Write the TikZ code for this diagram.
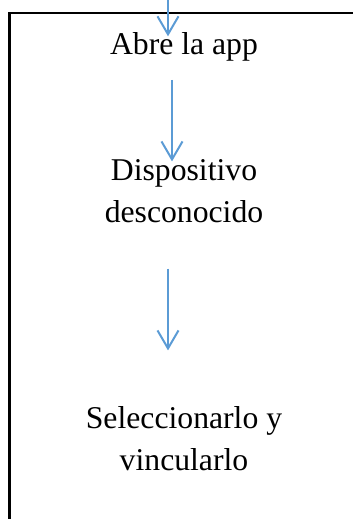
\documentclass[tikz,border=0pt]{standalone}
\usepackage{fontspec}
\setmainfont{Liberation Serif}
\usetikzlibrary{arrows.meta}
\definecolor{azul}{RGB}{91,155,213}
\begin{document}
\begin{tikzpicture}[x=1pt,y=-1pt,
	texto/.style={font=\fontsize{31.7}{42}\selectfont,align=center,inner sep=0pt,anchor=base},
	flecha/.style={azul,line width=2pt,-{Straight Barb[length=18pt,width=21pt]}}]
	\useasboundingbox(0,0)rectangle(353,519);
	\draw[line width=2.2pt](9.5,520)--(9.5,13)--(354,13);
	\node[texto](abre)at(184,55){Abre la app};
	\node[texto](disp)at(184,222){Dispositivo\\desconocido};
	\node[texto](sel)at(184,470){Seleccionarlo y\\vincularlo};
	\coordinate(entrada)at(168,0);
	\draw[flecha](entrada)--([yshift=-3.5pt]entrada|-abre.north);
	\draw[flecha]([xshift=-12pt,yshift=-18pt]abre.south)--([xshift=-12pt,yshift=-2.6pt]disp.north);
	\draw[flecha]([xshift=-16pt,yshift=-46pt]disp.south)--([xshift=-16pt,yshift=55.4pt]sel.north);
\end{tikzpicture}
\end{document}
